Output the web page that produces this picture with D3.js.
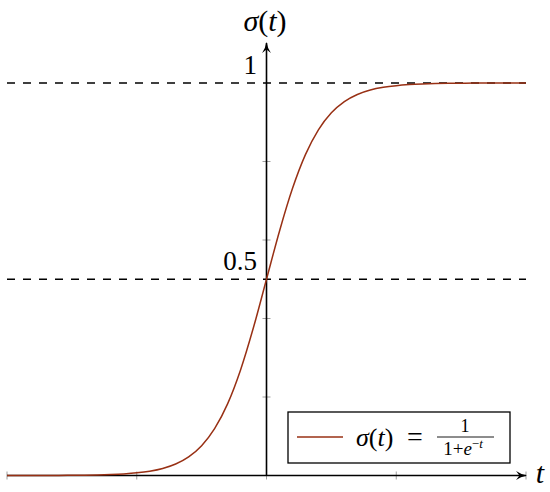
<!DOCTYPE html>
<html>
<head>
<meta charset="utf-8">
<script src="https://cdn.jsdelivr.net/npm/d3@7"></script>
<style>
  body { margin: 0; background: #fff; }
</style>
</head>
<body>
<svg id="chart" width="550" height="492"></svg>
<script>
// sigma(t), t from -10 to 10 in steps of 0.5
const tValues = [-10, -9.5, -9, -8.5, -8, -7.5, -7, -6.5, -6, -5.5, -5, -4.5, -4, -3.5, -3, -2.5, -2, -1.5, -1, -0.5,
                 0, 0.5, 1, 1.5, 2, 2.5, 3, 3.5, 4, 4.5, 5, 5.5, 6, 6.5, 7, 7.5, 8, 8.5, 9, 9.5, 10];
const sigmaValues = [0.000, 0.0001, 0.0001, 0.0002, 0.0003, 0.0006, 0.0009, 0.0015, 0.0025, 0.0041, 0.0067, 0.011, 0.018, 0.0293, 0.0474, 0.0759, 0.1192, 0.1824, 0.2689, 0.3775,
                     0.5, 0.6225, 0.7311, 0.8176, 0.8808, 0.9241, 0.9526, 0.9707, 0.982, 0.989, 0.9933, 0.9959, 0.9975, 0.9985, 0.9991, 0.9994, 0.9997, 0.9998, 0.9999, 0.9999, 1.000];
const xTicks = [-10, -5, 0, 5, 10];
const yTicks = [0.2, 0.4, 0.6, 0.8];
const dashedLevels = [0.5, 1];
const yLabels = [{v: 1, text: "1"}, {v: 0.5, text: "0.5"}];

const svg = d3.select("#chart");
const curveColor = "#983014";
const serif = "Liberation Serif, DejaVu Serif, serif";

let x = d3.scaleLinear().domain([-10, 10]).range([7, 526]);
let y = d3.scaleLinear().domain([0, 1]).range([475.5, 83]);

// dashed guide lines
svg.selectAll(".guide")
  .data(dashedLevels)
  .enter()
    .append("line")
    .attr("x1", x(-10)).attr("x2", x(10))
    .attr("y1", d => y(d)).attr("y2", d => y(d))
    .attr("stroke", "#000")
    .attr("stroke-width", 1.3)
    .attr("stroke-dasharray", "8,8");

// small gray ticks
svg.selectAll(".xtick")
  .data(xTicks)
  .enter()
    .append("line")
    .attr("x1", d => x(d)).attr("x2", d => x(d))
    .attr("y1", y(0) - 4).attr("y2", y(0) + 4)
    .attr("stroke", "#888").attr("stroke-width", 0.8);

svg.selectAll(".ytick")
  .data(yTicks)
  .enter()
    .append("line")
    .attr("x1", x(0) - 4).attr("x2", x(0) + 4)
    .attr("y1", d => y(d)).attr("y2", d => y(d))
    .attr("stroke", "#888").attr("stroke-width", 0.8);

// arrow marker
svg.append("defs").append("marker")
  .attr("id", "arrow")
  .attr("viewBox", "0 0 10 10")
  .attr("refX", 9).attr("refY", 5)
  .attr("markerWidth", 11).attr("markerHeight", 11)
  .attr("markerUnits", "userSpaceOnUse")
  .attr("orient", "auto")
  .append("path")
    .attr("d", "M0,1 Q4,4 10,5 Q4,6 0,9 L3,5 Z")
    .attr("fill", "#000");

// axes
svg.append("line")
  .attr("x1", x(-10)).attr("x2", x(10))
  .attr("y1", y(0)).attr("y2", y(0))
  .attr("stroke", "#000").attr("stroke-width", 1.6)
  .attr("marker-end", "url(#arrow)");

svg.append("line")
  .attr("x1", x(0)).attr("x2", x(0))
  .attr("y1", y(0)).attr("y2", 43)
  .attr("stroke", "#000").attr("stroke-width", 1.6)
  .attr("marker-end", "url(#arrow)");

// the curve
let line = d3.line()
  .x((d, i) => x(tValues[i]))
  .y(d => y(d))
  .curve(d3.curveMonotoneX);

svg.append("path")
  .attr("d", line(sigmaValues))
  .attr("fill", "none")
  .attr("stroke", curveColor)
  .attr("stroke-width", 1.5);

// labels
svg.selectAll(".ylabel")
  .data(yLabels)
  .enter()
    .append("text")
    .attr("x", 257)
    .attr("y", d => y(d.v) - 9)
    .attr("text-anchor", "end")
    .attr("font-family", serif)
    .attr("font-size", 27)
    .text(d => d.text);

svg.append("text")
  .attr("x", 265).attr("y", 31)
  .attr("text-anchor", "middle")
  .attr("font-family", serif)
  .attr("font-size", 30)
  .html('<tspan font-style="italic">σ</tspan>(<tspan font-style="italic">t</tspan>)');

svg.append("text")
  .attr("x", 540).attr("y", 483)
  .attr("text-anchor", "middle")
  .attr("font-family", serif)
  .attr("font-size", 30)
  .attr("font-style", "italic")
  .text("t");

// legend
let legend = svg.append("g").attr("font-family", serif);
legend.append("rect")
  .attr("x", 288).attr("y", 412)
  .attr("width", 222).attr("height", 51)
  .attr("fill", "#fff")
  .attr("stroke", "#000")
  .attr("stroke-width", 1.3);

legend.append("line")
  .attr("x1", 297).attr("x2", 343)
  .attr("y1", 437).attr("y2", 437)
  .attr("stroke", curveColor)
  .attr("stroke-width", 1.5);

legend.append("text")
  .attr("x", 356).attr("y", 446)
  .attr("font-size", 26)
  .html('<tspan font-style="italic">σ</tspan>(<tspan font-style="italic">t</tspan>)');

legend.append("text")
  .attr("x", 415).attr("y", 446)
  .attr("text-anchor", "middle")
  .attr("font-size", 28)
  .text("=");

legend.append("text")
  .attr("x", 465).attr("y", 432)
  .attr("text-anchor", "middle")
  .attr("font-size", 18)
  .text("1");

legend.append("line")
  .attr("x1", 437).attr("x2", 494)
  .attr("y1", 437).attr("y2", 437)
  .attr("stroke", "#000").attr("stroke-width", 0.9);

legend.append("text")
  .attr("x", 463).attr("y", 455)
  .attr("text-anchor", "middle")
  .attr("font-size", 19)
  .html('1+<tspan font-style="italic">e</tspan><tspan dy="-7" font-size="13">−<tspan font-style="italic">t</tspan></tspan>');
</script>
</body>
</html>
